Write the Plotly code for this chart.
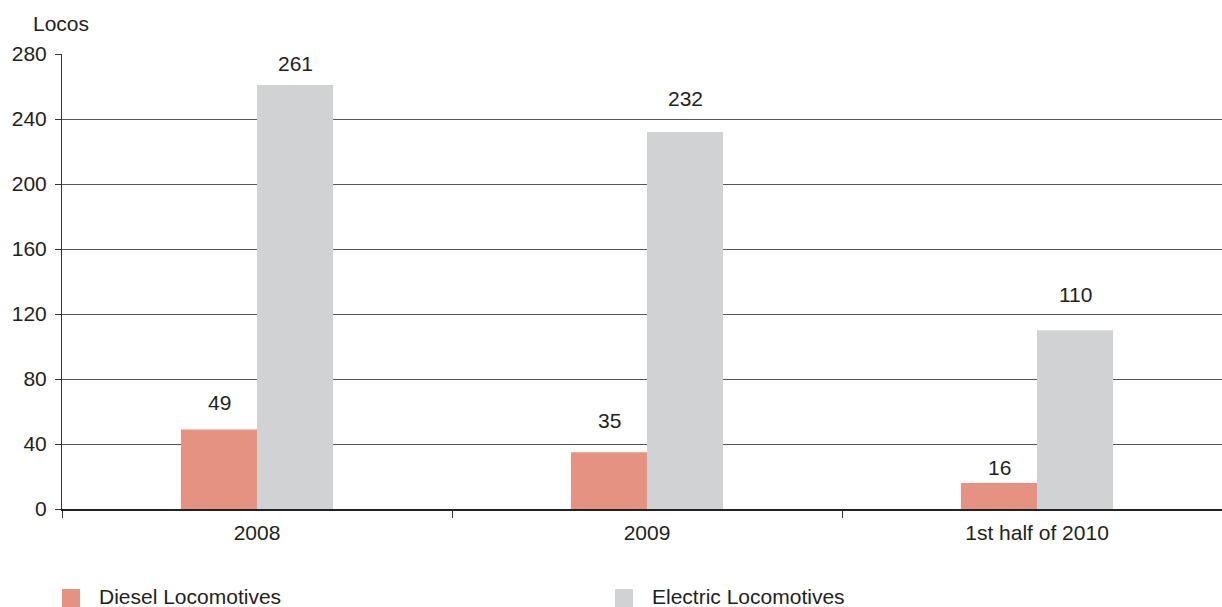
import plotly.graph_objects as go

# Locomotive output by period
periods = ["2008", "2009", "1st half of 2010"]
diesel = [49, 35, 16]
electric = [261, 232, 110]
series_names = ["Diesel Locomotives", "Electric Locomotives"]
y_ticks = [0, 40, 80, 120, 160, 200, 240, 280]

# vertical pixel offsets of the value labels above their bars
diesel_label_lift = [13, 18, 2]
electric_label_lift = [8, 20, 22]

DIESEL_COLOR = "#E59282"
ELECTRIC_COLOR = "#D1D2D4"
TEXT_COLOR = "#231F20"
FONT = "Liberation Sans, Arial, sans-serif"
FS = 21

fig = go.Figure()
fig.add_trace(go.Bar(x=periods, y=diesel, name=series_names[0],
                     marker=dict(color=DIESEL_COLOR, line=dict(width=0)),
                     showlegend=False))
fig.add_trace(go.Bar(x=periods, y=electric, name=series_names[1],
                     marker=dict(color=ELECTRIC_COLOR, line=dict(width=0)),
                     showlegend=False))

# value labels above each bar (category positions addressed by index)
annotations = []
for vals, lifts, shift in ((diesel, diesel_label_lift, -38),
                           (electric, electric_label_lift, 38)):
    for i, (v, lift) in enumerate(zip(vals, lifts)):
        annotations.append(dict(x=i, y=v, xref="x", yref="y", text=str(v),
                                showarrow=False, xshift=shift, yshift=lift,
                                yanchor="bottom",
                                font=dict(size=FS, color=TEXT_COLOR, family=FONT)))

# axis title above the value axis
annotations.append(dict(x=0, y=1, xref="paper", yref="paper", text="Locos",
                        showarrow=False, xanchor="center", yanchor="middle",
                        yshift=31, xshift=-1,
                        font=dict(size=FS, color=TEXT_COLOR, family=FONT)))

# legend drawn beneath the chart
shapes = []
legend_pos = [0.0, 553 / 1160]
for name, color, xa in zip(series_names, [DIESEL_COLOR, ELECTRIC_COLOR], legend_pos):
    shapes.append(dict(type="rect", xref="paper", yref="paper",
                       xsizemode="pixel", ysizemode="pixel",
                       xanchor=xa, yanchor=0, x0=0, x1=18, y0=-80, y1=-98,
                       fillcolor=color, line=dict(width=0)))
    annotations.append(dict(x=xa, y=0, xref="paper", yref="paper", text=name,
                            showarrow=False, xanchor="left", yanchor="middle",
                            xshift=35, yshift=-87,
                            font=dict(size=FS, color=TEXT_COLOR, family=FONT)))

fig.update_layout(
    width=1222, height=607,
    margin=dict(l=62, r=0, t=54, b=98),
    plot_bgcolor="white", paper_bgcolor="white",
    barmode="group", bargap=0.61, bargroupgap=0,
    font=dict(family=FONT, size=FS, color=TEXT_COLOR),
    annotations=annotations, shapes=shapes,
    xaxis=dict(type="category", range=[-0.5, -0.5 + 1160 / 390],
               tickson="boundaries", ticks="outside", ticklen=7,
               tickcolor="#333", tickwidth=1,
               showline=True, linecolor="#222", linewidth=1.5,
               showgrid=False, ticklabelstandoff=4,
               tickfont=dict(size=FS, color=TEXT_COLOR, family=FONT)),
    yaxis=dict(range=[0, 280], tickvals=y_ticks, ticks="outside", ticklen=6,
               tickcolor="#333", tickwidth=1,
               showline=True, linecolor="#333", linewidth=1,
               showgrid=True, gridcolor="#555", gridwidth=1,
               zeroline=False, ticklabelstandoff=4,
               tickfont=dict(size=FS, color=TEXT_COLOR, family=FONT)),
)

fig.write_html("out.html")
